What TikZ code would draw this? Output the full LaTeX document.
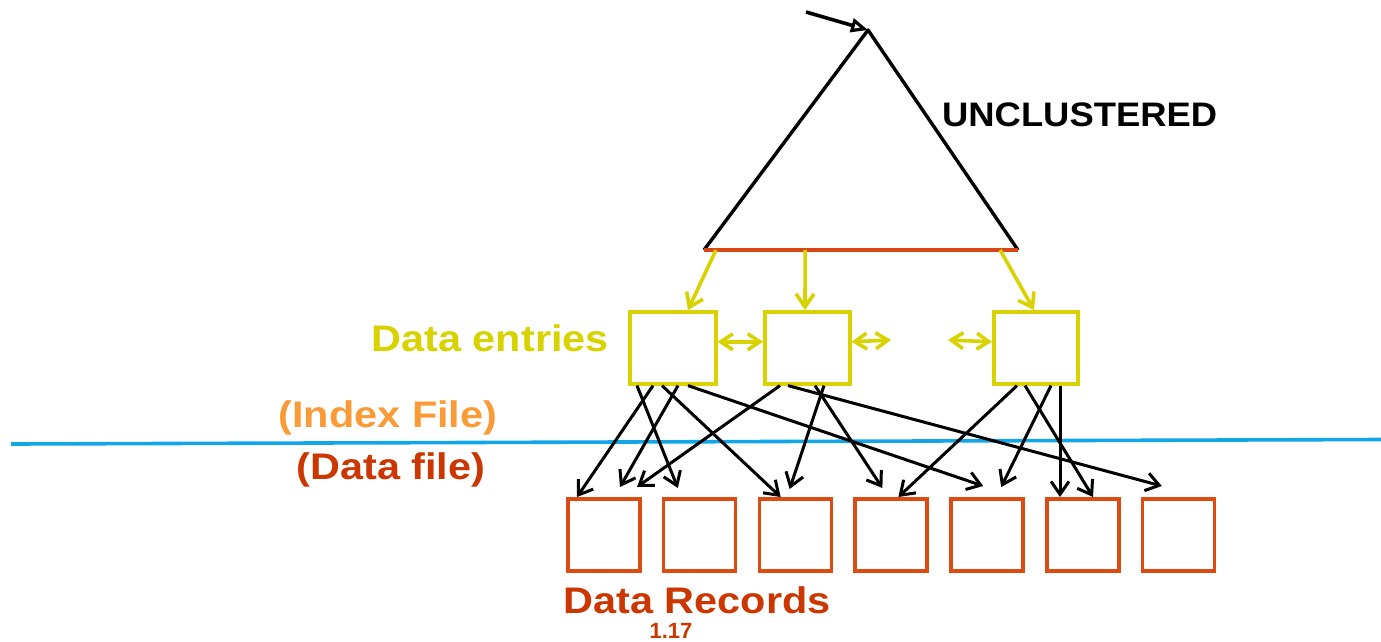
\documentclass[tikz,border=0pt]{standalone}
\usepackage{fontspec}
\setmainfont{Liberation Sans}
\newfontfamily\lblfont{Liberation Sans}[FakeStretch=1.12]
\newfontfamily\titfont{Liberation Sans}[FakeStretch=1.07]
\usetikzlibrary{arrows.meta,calc}
\definecolor{ylw}{RGB}{215,210,0}
\definecolor{recred}{RGB}{220,75,15}
\definecolor{basered}{RGB}{215,70,20}
\definecolor{txtred}{RGB}{204,54,0}
\definecolor{idxorange}{RGB}{250,155,55}
\definecolor{sepblue}{RGB}{18,166,232}
\tikzset{
  entrybox/.style={draw=ylw, line width=3.6pt, minimum width=86pt, minimum height=72pt, inner sep=0pt, anchor=north west},
  recbox/.style={draw=recred, line width=3.6pt, minimum width=72pt, minimum height=72pt, inner sep=0pt, anchor=north west},
  conn/.style={line width=3pt, -{Straight Barb[length=13pt,width=18pt]}},
  yconn/.style={draw=ylw, line width=3.6pt, -{Straight Barb[length=13pt,width=18pt]}},
  ydbl/.style={draw=ylw, line width=3.6pt, {Straight Barb[length=12pt,width=16pt]}-{Straight Barb[length=12pt,width=16pt]}},
  lbl/.style={inner sep=0pt, font=\lblfont\bfseries\fontsize{37}{40}\selectfont},
}
\begin{document}
\begin{tikzpicture}[x=1pt,y=-1pt]
\useasboundingbox (0,0) rectangle (1381,641);
% separator
\coordinate (sepL) at (11,444);
\coordinate (sepR) at (1381,439.5);
\draw[sepblue, line width=3.6pt] (sepL) -- (sepR);
% triangle
\coordinate (apex) at (868,30);
\coordinate (bl) at (704,250);
\coordinate (br) at (1018,250);
\coordinate (in) at (806,12);
\draw[line width=3.4pt, line join=round] (bl) -- (apex) -- (br);
\draw[basered, line width=3.8pt] (bl) -- (br);
\draw[line width=3.6pt, -{Triangle[open,length=17pt,width=14pt,line width=3.2pt]}] (in) -- (apex);
% entry boxes
\node[entrybox] (e1) at (628,310) {};
\node[entrybox, minimum width=85pt] (e2) at (763,310) {};
\node[entrybox, minimum width=84pt] (e3) at (992,310) {};
% record boxes
\foreach \i in {1,...,7}{
  \node[recbox] (r\i) at ({566+95.8*(\i-1)},497) {};
}
% yellow arrows
\draw[yconn] ($(bl)!0.038!(br)$) -- ([xshift=60pt]e1.north west);
\draw[yconn] ($(bl)!0.322!(br)$) -- ([xshift=42pt]e2.north west);
\draw[yconn] ($(bl)!0.943!(br)$) -- ([xshift=42pt]e3.north west);
% double arrows
\coordinate (gapL) at (891,340);
\coordinate (gapR) at (948,340);
\draw[ydbl] ([yshift=6pt]e1.east) -- ([yshift=6pt]e2.west);
\draw[ydbl] ([yshift=6pt]e2.east) -- (gapL);
\draw[ydbl] (gapR) -- ([yshift=6pt]e3.west);
% connectors from e1
\draw[conn] ([xshift=9pt]e1.south west) -- ([xshift=16pt,yshift=9pt]r2.north west);
\draw[conn] ([xshift=25pt]e1.south west) -- ([xshift=11pt]r1.north west);
\draw[conn] ([xshift=34pt]e1.south west) -- ([xshift=23pt]r3.north west);
\draw[conn] ([xshift=50pt]e1.south west) -- ([xshift=54pt,yshift=10pt]r1.north west);
\draw[conn] ([xshift=60pt]e1.south west) -- ([xshift=34pt,yshift=11pt]r5.north west);
% connectors from e2
\draw[conn] ([xshift=17pt]e2.south west) -- ([xshift=71pt,yshift=10pt]r1.north west);
\draw[conn] ([xshift=25pt]e2.south west) -- ([xshift=21pt,yshift=11pt]r7.north west);
\draw[conn] ([xshift=61pt]e2.south west) -- ([xshift=32pt,yshift=8pt]r3.north west);
\draw[conn] ([xshift=52pt]e2.south west) -- ([xshift=29pt,yshift=9pt]r4.north west);
% connectors from e3
\draw[conn] ([xshift=25pt]e3.south west) -- ([xshift=45pt]r4.north west);
\draw[conn] ([xshift=33pt]e3.south west) -- ([xshift=48pt]r6.north west);
\draw[conn] ([xshift=59pt]e3.south west) -- ([xshift=52pt,yshift=10pt]r5.north west);
\draw[conn] ([xshift=68pt]e3.south west) -- ([xshift=15pt]r6.north west);
% labels
\node[inner sep=0pt, anchor=base west, font=\titfont\bfseries\fontsize{34}{38}\selectfont] (uncl) at (942,126) {UNCLUSTERED};
\node[lbl, ylw, anchor=base east] (de) at (609,351) {Data entries};
\node[lbl, idxorange, anchor=base] (ixf) at (388,427) {(Index File)};
\node[lbl, txtred, anchor=base] (dtf) at (391,479) {(Data file)};
\node[lbl, txtred, anchor=base] (dr) at (697,613) {Data Records};
\node[inner sep=0pt, txtred, anchor=base, font=\bfseries\fontsize{22}{24}\selectfont] (num) at (671,638.5) {1.17};
\end{tikzpicture}
\end{document}
